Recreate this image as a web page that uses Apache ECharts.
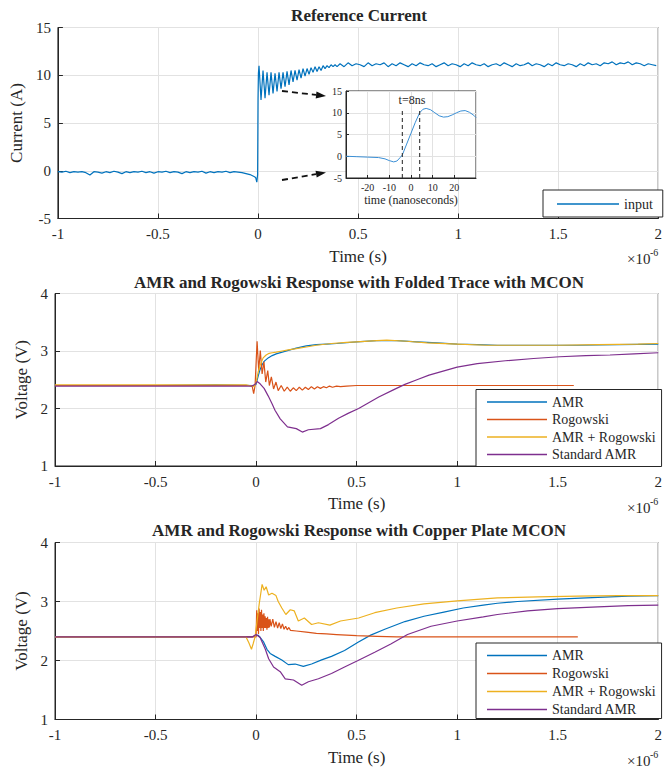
<!DOCTYPE html>
<html><head><meta charset="utf-8">
<script src="https://cdn.jsdelivr.net/npm/echarts@6/dist/echarts.min.js"></script>
<style>html,body{margin:0;padding:0;background:#fff}#c{width:665px;height:770px}</style>
</head><body><div id="c"></div>
<script>
// ---------------- DATA (time in microseconds, i.e. ×10^-6 s) ----------------
const timeTicks = [-1, -0.5, 0, 0.5, 1, 1.5, 2];

// Reference current (A) - sampled segments: start, step, values
const inputPreStart = -1, inputPreStep = 0.02;
const inputPre = [-0.1,-0.15,-0.05,-0.2,-0.1,-0.15,-0.1,-0.2,-0.45,-0.1,
  -0.15,-0.25,-0.1,-0.2,-0.05,-0.15,-0.3,-0.1,-0.2,-0.1,
  -0.15,-0.05,-0.2,-0.1,-0.25,-0.1,-0.15,-0.05,-0.2,-0.1,
  -0.15,-0.3,-0.1,-0.2,-0.1,-0.15,-0.05,-0.25,-0.1,-0.2,
  -0.1,-0.15,-0.05,-0.2,-0.1,-0.15,-0.2,-0.3,-0.4,-0.6];
const inputEdge = [[-0.012,-0.7],[-0.006,-1.2],[-0.002,-0.4],[0.0,7.5],[0.002,10.2]];
const inputRingStart = 0.005, inputRingStep = 0.01;
const inputRing = [11.0,7.4,10.5,7.6,10.3,7.9,10.3,8.1,10.2,8.3,
  10.3,8.6,10.3,8.8,10.4,9.0,10.5,9.3,10.5,9.5,
  10.6,9.7,10.7,9.9,10.7,10.1,10.8,10.3,10.9,10.4,
  10.9,10.5,11.0,10.7,11.0,10.8,11.1,10.9,11.1,10.9];
const inputFlatStart = 0.41, inputFlatStep = 0.02;
const inputFlat = [11.2,10.9,11.3,11.0,11.2,11.1,10.9,11.3,11.0,11.2,
  11.1,11.3,10.9,11.2,11.0,11.3,11.1,10.9,11.2,11.0,
  11.3,11.1,11.0,11.2,10.9,11.1,11.3,11.0,11.2,11.1,
  10.9,11.2,11.0,11.3,11.1,11.0,11.2,10.9,11.1,11.2,
  11.0,11.3,11.1,10.9,11.2,11.0,11.1,11.3,11.0,11.2,
  11.1,10.9,11.2,11.0,11.3,11.1,11.0,11.2,11.1,10.9,
  11.2,11.0,11.3,11.1,11.2,11.0,11.3,11.2,11.4,11.1,
  11.3,11.2,11.4,11.1,11.3,11.2,11.0,11.2,11.1,11.0];

// Inset: time (ns), current (A)
const insetCurve = [[-30,0],[-25,-0.1],[-20,-0.2],[-15,-0.3],[-12,-0.6],[-10,-1.0],[-8,-1.3],[-6.5,-1.1],
  [-5,-0.3],[-4,0.3],[-2,2.8],[0,5.3],[2,7.8],[4,10.0],[5.5,10.8],[7,11.0],[9,10.7],[11,10.0],[13,9.3],
  [15,9.0],[17,9.1],[19,9.5],[21,10.0],[23,10.4],[25,10.5],[27,10.1],[29,9.4],[30,8.9]];
const insetMarkers = [-4, 4];
const insetMarkerRange = [-5, 11];

// Folded trace with MCON (V)
const midAMR = [[-1,2.4],[-0.5,2.4],[-0.2,2.41],[-0.01,2.4],[0.0,2.42],[0.01,2.56],[0.02,2.68],[0.03,2.76],
  [0.04,2.82],[0.06,2.88],[0.08,2.92],[0.1,2.95],[0.13,2.98],[0.16,3.01],[0.2,3.05],[0.25,3.09],[0.3,3.11],
  [0.35,3.12],[0.4,3.13],[0.5,3.16],[0.6,3.18],[0.7,3.18],[0.8,3.16],[0.9,3.14],[1.0,3.12],[1.1,3.11],
  [1.2,3.1],[1.4,3.1],[1.6,3.1],[1.8,3.11],[2.0,3.12]];
const midRog = [[-1,2.4],[-0.02,2.4],[-0.012,2.26],[-0.005,2.4],[0.005,3.17],[0.013,2.66],[0.021,3.01],
  [0.03,2.6],[0.039,2.81],[0.048,2.46],[0.058,2.66],[0.066,2.4],[0.076,2.55],[0.087,2.34],[0.099,2.46],
  [0.11,2.31],[0.125,2.4],[0.14,2.3],[0.155,2.37],[0.17,2.3],[0.185,2.36],[0.2,2.31],[0.215,2.37],
  [0.23,2.32],[0.245,2.37],[0.26,2.33],[0.275,2.38],[0.29,2.34],[0.305,2.38],[0.32,2.35],[0.335,2.38],
  [0.35,2.36],[0.365,2.39],[0.38,2.37],[0.4,2.39],[0.42,2.38],[0.45,2.39],[0.5,2.4],[0.6,2.4],[1.58,2.4]];
const midSum = [[-1,2.41],[-0.5,2.41],[-0.05,2.41],[-0.01,2.38],[0.0,2.45],[0.01,2.63],[0.02,2.75],
  [0.035,2.88],[0.05,2.93],[0.065,2.96],[0.08,2.97],[0.1,2.98],[0.13,3.0],[0.16,3.02],[0.2,3.04],
  [0.25,3.07],[0.3,3.1],[0.375,3.13],[0.45,3.15],[0.5,3.16],[0.6,3.18],[0.65,3.19],[0.75,3.17],
  [0.85,3.14],[1.0,3.12],[1.15,3.1],[1.3,3.1],[1.5,3.1],[1.7,3.11],[1.9,3.12],[2.0,3.13]];
const midStd = [[-1,2.39],[-0.02,2.39],[-0.005,2.42],[0.005,2.47],[0.02,2.43],[0.04,2.35],[0.06,2.22],
  [0.08,2.08],[0.094,1.97],[0.12,1.82],[0.156,1.68],[0.2,1.65],[0.23,1.59],[0.26,1.63],[0.32,1.65],
  [0.36,1.72],[0.41,1.83],[0.46,1.92],[0.51,2.0],[0.56,2.1],[0.61,2.2],[0.68,2.32],[0.74,2.42],[0.8,2.5],
  [0.86,2.58],[0.93,2.65],[1.0,2.72],[1.1,2.78],[1.24,2.83],[1.38,2.87],[1.51,2.9],[1.64,2.92],
  [1.76,2.93],[1.88,2.95],[2.0,2.97]];

// Copper plate MCON (V)
const botAMR = [[-1,2.4],[-0.02,2.4],[0.0,2.42],[0.01,2.43],[0.021,2.39],[0.038,2.31],[0.054,2.19],
  [0.07,2.12],[0.095,2.07],[0.128,2.01],[0.16,1.93],[0.194,1.94],[0.235,1.9],[0.276,1.94],[0.326,2.01],
  [0.375,2.07],[0.44,2.17],[0.507,2.31],[0.57,2.43],[0.64,2.53],[0.74,2.66],[0.835,2.75],[0.934,2.82],
  [1.03,2.89],[1.13,2.94],[1.2,2.97],[1.3,3.0],[1.5,3.04],[1.7,3.07],[1.85,3.09],[2.0,3.1]];
const botRogPre = [[-1,2.4],[-0.01,2.4]];
const botRogBurstStart = 0, botRogBurstStep = 0.003;
const botRogBurst = [2.4,2.85,2.5,2.8,2.45,2.88,2.55,2.82,2.5,2.86,2.55,2.78,2.5,2.8,2.55,2.75,
  2.55,2.72,2.52,2.74,2.55,2.7,2.56,2.7];
const botRogRingStart = 0.075, botRogRingStep = 0.008;
const botRogRing = [2.58,2.7,2.56,2.66,2.55,2.64,2.54,2.62,2.53,2.58,2.52,2.56,2.51];
const botRogTail = [[0.2,2.5],[0.25,2.48],[0.3,2.46],[0.35,2.45],[0.4,2.44],[0.45,2.43],[0.5,2.42],
  [0.6,2.41],[0.7,2.4],[1.6,2.4]];
const botSum = [[-1,2.4],[-0.05,2.4],[-0.036,2.3],[-0.023,2.19],[-0.015,2.28],[-0.005,2.4],[0.005,2.67],
  [0.016,2.97],[0.03,3.29],[0.04,3.19],[0.05,3.25],[0.0625,3.11],[0.079,3.14],[0.099,3.1],[0.11,3.0],
  [0.128,2.89],[0.148,2.78],[0.17,2.86],[0.19,2.84],[0.21,2.67],[0.24,2.72],[0.276,2.61],[0.31,2.64],
  [0.367,2.6],[0.42,2.67],[0.51,2.72],[0.59,2.81],[0.7,2.89],[0.835,2.96],[1.0,3.01],[1.2,3.06],
  [1.4,3.08],[1.6,3.09],[1.8,3.1],[2.0,3.1]];
const botStd = [[-1,2.4],[-0.02,2.4],[0.0,2.44],[0.02,2.39],[0.046,2.19],[0.0625,2.03],[0.087,1.89],
  [0.12,1.81],[0.145,1.69],[0.186,1.67],[0.227,1.58],[0.26,1.64],[0.31,1.69],[0.375,1.78],[0.44,1.89],
  [0.507,2.0],[0.59,2.14],[0.67,2.28],[0.753,2.44],[0.87,2.58],[1.0,2.67],[1.13,2.74],[1.2,2.78],
  [1.35,2.84],[1.5,2.88],[1.7,2.91],[1.85,2.93],[2.0,2.94]];

const seriesNames = ['AMR', 'Rogowski', 'AMR + Rogowski', 'Standard AMR'];
const titles = ['Reference Current', 'AMR and Rogowski Response with Folded Trace with MCON',
  'AMR and Rogowski Response with Copper Plate MCON'];

// ---------------- BUILD ----------------
const seg = (t0, dt, vals) => vals.map((v, i) => [+(t0 + i * dt).toFixed(4), v]);
const inputData = [].concat(seg(inputPreStart, inputPreStep, inputPre), inputEdge,
  seg(inputRingStart, inputRingStep, inputRing), seg(inputFlatStart, inputFlatStep, inputFlat));
const botRog = [].concat(botRogPre, seg(botRogBurstStart, botRogBurstStep, botRogBurst),
  seg(botRogRingStart, botRogRingStep, botRogRing), botRogTail);

const FONT = 'Liberation Serif';
const INK = '#262626';
const GRIDC = '#e2e2e2';
const C = {blue: '#0072BD', orange: '#D95319', yellow: '#EDB120', purple: '#7E2F8E'};

const grids = [
  {left: 55, top: 27.5, width: 608, height: 191},
  {left: 55, top: 293.5, width: 608, height: 172.5},
  {left: 55, top: 542.5, width: 608, height: 177},
  {left: 346, top: 91, width: 130, height: 87, z: 10}
].map(g => Object.assign({show: true, borderColor: INK, borderWidth: 1, backgroundColor: '#fff'}, g));

function mainX(i) {
  return {gridIndex: i, type: 'value', min: timeTicks[0], max: timeTicks[timeTicks.length - 1], interval: 0.5,
    axisLine: {show: true, onZero: false, lineStyle: {color: INK}},
    axisTick: {show: true, inside: true, length: 5, lineStyle: {color: INK}},
    axisLabel: {color: INK, fontFamily: FONT, fontSize: 15, margin: 8},
    splitLine: {show: true, lineStyle: {color: GRIDC}},
    name: 'Time (s)', nameLocation: 'middle', nameGap: 29,
    nameTextStyle: {color: INK, fontFamily: FONT, fontSize: 17}};
}
function mainY(i, min, max, interval, name, gap) {
  return {gridIndex: i, type: 'value', min, max, interval,
    axisLine: {show: true, onZero: false, lineStyle: {color: INK}},
    axisTick: {show: true, inside: true, length: 5, lineStyle: {color: INK}},
    axisLabel: {color: INK, fontFamily: FONT, fontSize: 15, margin: 7},
    splitLine: {show: true, lineStyle: {color: GRIDC}},
    name, nameLocation: 'middle', nameGap: gap,
    nameTextStyle: {color: INK, fontFamily: FONT, fontSize: 17}};
}
const xAxes = [mainX(0), mainX(1), mainX(2), {
  gridIndex: 3, type: 'value', min: -30, max: 30, interval: 10, z: 11,
  axisLine: {show: true, onZero: false, lineStyle: {color: INK}},
  axisTick: {show: true, inside: true, length: 3, lineStyle: {color: INK}},
  axisLabel: {color: INK, fontFamily: FONT, fontSize: 10, margin: 4, showMinLabel: false, showMaxLabel: false},
  splitLine: {show: true, lineStyle: {color: GRIDC}},
  name: 'time (nanoseconds)', nameLocation: 'middle', nameGap: 16,
  nameTextStyle: {color: INK, fontFamily: FONT, fontSize: 12}
}];
const yAxes = [mainY(0, -5, 15, 5, 'Current (A)', 31), mainY(1, 1, 4, 1, 'Voltage (V)', 21),
  mainY(2, 1, 4, 1, 'Voltage (V)', 21), {
  gridIndex: 3, type: 'value', min: -5, max: 15, interval: 5, z: 11,
  axisLine: {show: true, onZero: false, lineStyle: {color: INK}},
  axisTick: {show: true, inside: true, length: 3, lineStyle: {color: INK}},
  axisLabel: {color: INK, fontFamily: FONT, fontSize: 10, margin: 4},
  splitLine: {show: true, lineStyle: {color: GRIDC}}
}];

function ln(name, data, color, idx, extra) {
  return Object.assign({type: 'line', name, data, xAxisIndex: idx, yAxisIndex: idx, symbol: 'none',
    showSymbol: false, silent: true, lineStyle: {color, width: 1.2}, itemStyle: {color}}, extra || {});
}
const series = [
  ln('input', inputData, C.blue, 0),
  ln(seriesNames[0], midAMR, C.blue, 1),
  ln(seriesNames[1], midRog, C.orange, 1),
  ln(seriesNames[2], midSum, C.yellow, 1),
  ln(seriesNames[3], midStd, C.purple, 1),
  ln(seriesNames[0], botAMR, C.blue, 2),
  ln(seriesNames[1], botRog, C.orange, 2),
  ln(seriesNames[2], botSum, C.yellow, 2),
  ln(seriesNames[3], botStd, C.purple, 2),
  ln('inset', insetCurve, '#3a8fd6', 3, {z: 13, lineStyle: {color: '#3a8fd6', width: 1}}),
].concat(insetMarkers.map((t, k) => ln('marker' + k, insetMarkerRange.map(v => [t, v]), '#333', 3,
  {z: 13, lineStyle: {color: '#333', width: 1.1, type: [4, 3]}})));

const legendBase = {orient: 'vertical', backgroundColor: '#fff', borderColor: INK, borderWidth: 1,
  icon: 'rect', itemWidth: 60, itemHeight: 1.5, selectedMode: false,
  textStyle: {color: INK, fontFamily: FONT, fontSize: 14, lineHeight: 14}};
const legends = [
  Object.assign({}, legendBase, {data: ['input'], left: 543, top: 190, padding: [7, 10, 6, 14], itemWidth: 62}),
  Object.assign({}, legendBase, {data: seriesNames, left: 476, top: 389.5, itemGap: 3.5, padding: [5.5, 6, 5, 11]}),
  Object.assign({}, legendBase, {data: seriesNames, left: 476, top: 643, itemGap: 4, padding: [5.5, 6, 2, 11]})
];

const tx = (text, x, y, size, bold, align) => ({type: 'text', x, y, z: 20, silent: true,
  style: {text, fill: INK, fontFamily: FONT, fontSize: size, fontWeight: bold ? 'bold' : 'normal',
    textAlign: align || 'center', textVerticalAlign: 'middle'}});
const graphics = [
  tx(titles[0], 359, 15, 17, true), tx(titles[1], 359, 282, 17, true), tx(titles[2], 359, 530.5, 17, true),
  tx('×10', 627, 259, 15, false, 'left'), tx('-6', 650, 252, 10, false, 'left'),
  tx('×10', 627, 508, 15, false, 'left'), tx('-6', 650, 501, 10, false, 'left'),
  tx('×10', 627, 761, 15, false, 'left'), tx('-6', 650, 754, 10, false, 'left'),
  tx('t=8ns', 412, 100, 12, false),
  {type: 'line', z: 20, silent: true, shape: {x1: 282, y1: 91, x2: 316, y2: 94.9},
    style: {stroke: '#111', lineWidth: 1.8, lineDash: [6, 4]}},
  {type: 'polygon', z: 20, silent: true, shape: {points: [[326, 96], [316.5, 91.4], [315.7, 98.4]]},
    style: {fill: '#111'}},
  {type: 'line', z: 20, silent: true, shape: {x1: 282, y1: 180, x2: 316, y2: 174.2},
    style: {stroke: '#111', lineWidth: 1.8, lineDash: [6, 4]}},
  {type: 'polygon', z: 20, silent: true, shape: {points: [[326, 172.5], [316.7, 177.6], [315.5, 170.7]]},
    style: {fill: '#111'}}
];

const chart = echarts.init(document.getElementById('c'), null, {renderer: 'svg'});
chart.setOption({
  animation: false,
  backgroundColor: '#fff',
  grid: grids, xAxis: xAxes, yAxis: yAxes, legend: legends, series, graphic: graphics
});
</script></body></html>
